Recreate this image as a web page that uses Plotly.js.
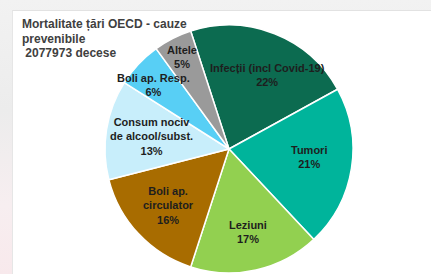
<!DOCTYPE html>
<html>
<head>
<meta charset="utf-8">
<script src="https://cdn.plot.ly/plotly-3.0.1.min.js"></script>
<style>
html,body{margin:0;padding:0;background:#ffffff;}
#wrap{position:relative;width:431px;height:274px;overflow:hidden;
  background:linear-gradient(180deg,#f2f2f2 0%,#ececec 40%,#f7eef0 75%,#f8e9ec 100%);}
#frame{position:absolute;left:12px;top:10px;right:0;bottom:0;background:#ffffff;
  border-top:1px solid #e2e2e2;border-left:1px solid #e6e6e6;}
#chart{position:absolute;left:0;top:0;width:431px;height:274px;}
</style>
</head>
<body>
<div id="wrap"><div id="frame"></div><div id="chart"></div></div>
<script>
const categories = ["Infecții (incl Covid-19)", "Tumori", "Leziuni", "Boli ap.<br>circulator",
  "Consum nociv<br>de alcool/subst.", "Boli ap. Resp.", "Altele"];
const values = [22, 21, 17, 16, 13, 6, 5];
const colors = ["#0c6b50", "#00b49b", "#92d050", "#a86c00", "#c8eefb", "#58cff5", "#9a9a9a"];
const titleLines = ["Mortalitate țări OECD - cauze", "prevenibile", "\u00a02077973 decese"];

// style: label distance from centre (fraction of radius) and angular nudge (deg)
const labelRadius = [0.67, 0.65, 0.69, 0.67, 0.63, 0.80, 0.83];
const labelShift = [6, -3, 0, 0, 0, -3, 0];

const W = 431, H = 274;
const domX = [0.2436, 0.8190], domY = [0.0036, 0.9088];
const rotation = -18;
const fontFam = "Liberation Sans Narrow, Arial Narrow, Liberation Sans, sans-serif";

const trace = {
  type: "pie",
  labels: categories,
  values: values,
  sort: false,
  direction: "clockwise",
  rotation: rotation,
  marker: {colors: colors, line: {color: "#ffffff", width: 1.5}},
  textinfo: "none",
  textposition: "none",
  hoverinfo: "none",
  domain: {x: domX, y: domY},
  showlegend: false
};

// label placement derived from the data (slice mid-angles)
const total = values.reduce((a, b) => a + b, 0);
const cxPx = (domX[0] + domX[1]) / 2 * W;
const cyPx = H - (domY[0] + domY[1]) / 2 * H;
const R = Math.min((domX[1] - domX[0]) * W, (domY[1] - domY[0]) * H) / 2;
let cum = 0;
const labelAnns = values.map((v, i) => {
  const mid = rotation + (cum + v / 2) / total * 360 + labelShift[i];
  cum += v;
  const a = mid * Math.PI / 180;
  const px = cxPx + labelRadius[i] * R * Math.sin(a);
  const py = cyPx - labelRadius[i] * R * Math.cos(a);
  const pct = Math.round(v / total * 100) + "%";
  return {
    text: categories[i] + "<br>" + pct,
    xref: "paper", yref: "paper",
    x: px / W, y: 1 - py / H,
    xanchor: "center", yanchor: "middle", align: "center",
    showarrow: false,
    font: {family: fontFam, size: 11, color: "#1e1e1e", weight: "bold"}
  };
});

// title lines (tighter line spacing than Plotly's default)
const titleY = [24, 38.5, 53];
const titleAnns = titleLines.map((t, i) => ({
  text: t,
  xref: "paper", yref: "paper",
  x: 20 / W, y: 1 - titleY[i] / H,
  xanchor: "left", yanchor: "middle", align: "left",
  showarrow: false,
  font: {family: fontFam, size: 12, color: "#404040", weight: "bold"}
}));

const layout = {
  width: W, height: H,
  margin: {l: 0, r: 0, t: 0, b: 0},
  paper_bgcolor: "rgba(0,0,0,0)",
  plot_bgcolor: "rgba(0,0,0,0)",
  annotations: titleAnns.concat(labelAnns)
};

Plotly.newPlot("chart", [trace], layout, {displayModeBar: false, staticPlot: true});
</script>
</body>
</html>
